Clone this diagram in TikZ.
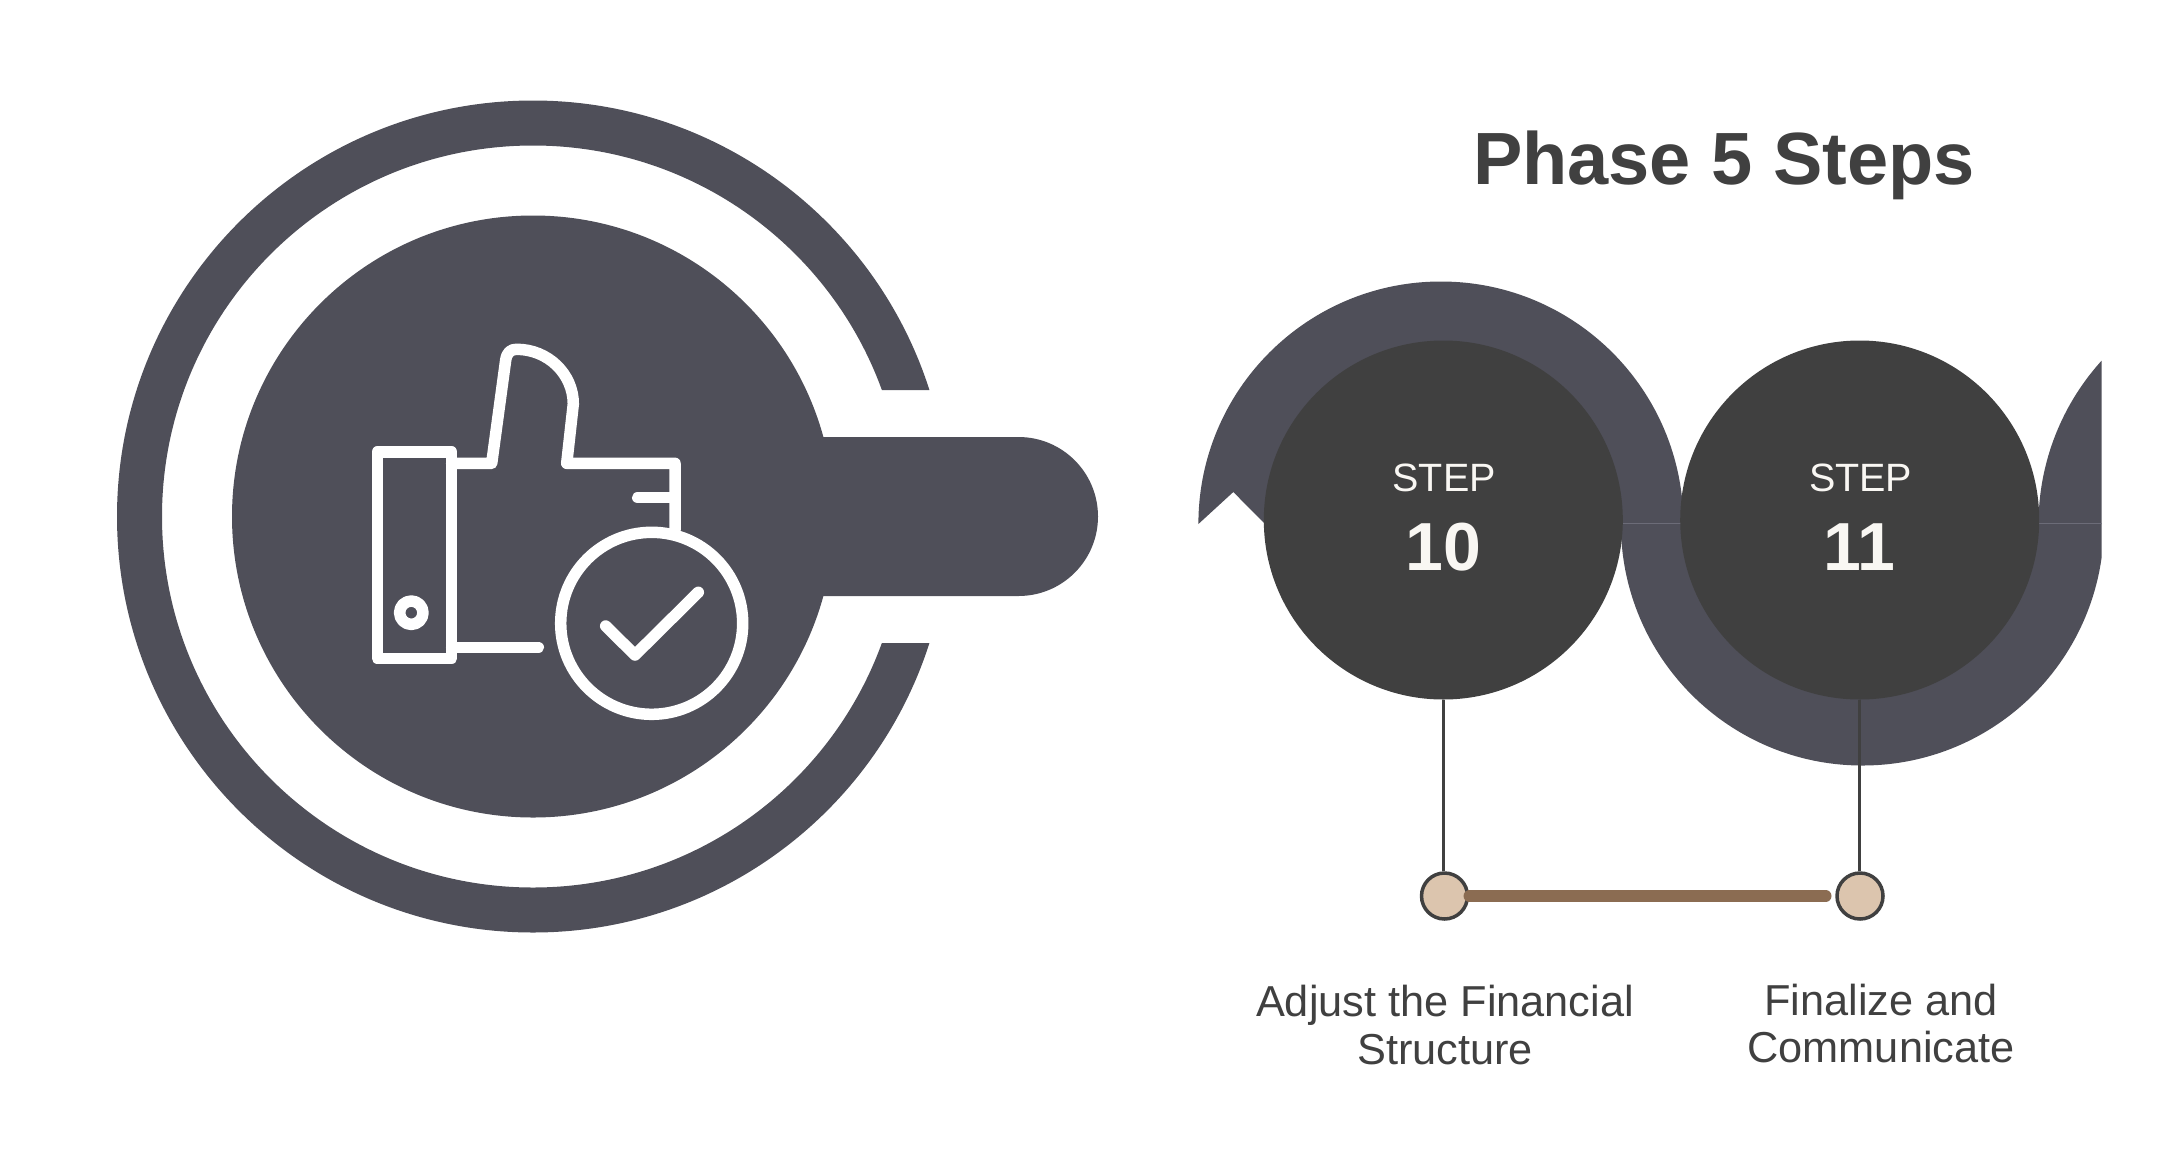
\documentclass[tikz,border=0pt]{standalone}
\usepackage{fontspec}
\setmainfont{Liberation Sans}
\usetikzlibrary{calc, arrows.meta}
\definecolor{slatefill}{HTML}{4F4F59}
\definecolor{coalfill}{HTML}{404040}
\definecolor{seamline}{HTML}{6C6C78}
\definecolor{sandfill}{HTML}{DCC5AE}
\definecolor{barbrown}{HTML}{8B6C52}
\definecolor{chalk}{HTML}{F9F7F3}
\tikzset{
  stepdisc/.style={circle, fill=coalfill, minimum size=359pt, inner sep=0pt},
  stepword/.style={text=chalk, font=\fontsize{39.5}{40}\selectfont, anchor=base},
  stepnum/.style={text=chalk, font=\fontsize{68}{68}\selectfont\bfseries, anchor=base},
  stemline/.style={draw=coalfill, line width=3pt},
  dotnode/.style={circle, draw=coalfill, line width=3.5pt, fill=sandfill, minimum size=46pt, inner sep=0pt},
  caption/.style={text=coalfill, font=\fontsize{43.3}{48}\selectfont, anchor=base},
  iconline/.style={draw=white, line width=11.5pt, line join=round, line cap=round},
}
\begin{document}
\begin{tikzpicture}[x=1pt,y=-1pt]
\useasboundingbox (0,0) rectangle (2184,1163);
\coordinate (Big) at (533,516.5);
% ring with a gap on the right
\begin{scope}
\clip (0,0) rectangle (2184,390) (0,643) rectangle (2184,1163) (0,390) rectangle (700,643);
\fill[slatefill, even odd rule] (Big) circle (416) (Big) circle (371);
\end{scope}
\fill[slatefill] (Big) circle (301);
\fill[slatefill] (800,437) -- (1018.5,437) arc[start angle=90, end angle=-90, radius=79.5pt] -- (800,596) -- cycle;
% thumb icon
\draw[iconline] (377.3,452) rectangle (451.7,658.3);
\draw[iconline] (451.7,463.3) -- (491.7,463.3) -- (505.7,360) .. controls (507,352) and (511,349.3) .. (516.7,349.3) .. controls (548,349.3) and (573.3,374) .. (573.3,404) -- (566.7,463.3) -- (675,463.3) -- (675,530);
\draw[iconline] (637.7,497.7) -- (675,497.7);
\draw[iconline] (451.7,647.3) -- (538.3,647.3);
\draw[iconline] (411.3,612.7) circle (11.7);
\draw[iconline] (651.7,623.3) circle (91);
\draw[iconline] (605.7,626) -- (635,655) -- (698.3,592.3);
% wave behind the steps
\begin{scope}
\clip (1190,250) rectangle (2101.6,800);
\fill[slatefill] (1198.4,524) arc[start angle=180, end angle=0, radius=242.5pt] -- (1611,524) arc[start angle=0, end angle=180, radius=170pt] -- (1268,527) -- (1233.3,492) -- cycle;
\fill[slatefill] (1620.9,524) arc[start angle=180, end angle=360, radius=241.5pt] -- (2031,524) arc[start angle=360, end angle=180, radius=170pt] -- cycle;
\fill[slatefill] (2038.5,524) arc[start angle=180, end angle=137, radius=243pt] -- (2101.6,524) -- cycle;
\draw[seamline, line width=1pt] (1622,523.5) -- (1681,523.5) (2038,523.5) -- (2101.6,523.5);
\end{scope}
\node[stepdisc] (step10) at (1443.3,520) {};
\node[stepdisc] (step11) at (1859.7,520) {};
\node[stepword] (word10) at (1444.2,491.5) {STEP};
\node[stepword] (word11) at (1860.6,491.5) {STEP};
\node[stepnum] (num10) at (1443.3,570.5) {10};
\node[stepnum] (num11) at (1859,570.5) {11};
% stems and dots
\node[dotnode] (dot10) at (1444.5,896) {};
\node[dotnode] (dot11) at (1860,896) {};
\draw[stemline] (step10.south) -- (dot10.north -| step10.south);
\draw[stemline] (step11.south) -- (dot11.north -| step11.south);
\draw[draw=barbrown, line width=11.5pt, line cap=round, shorten >=9.5pt] (dot10.east) -- (dot11.west);
\node[text=coalfill, font=\fontsize{74}{74}\selectfont\bfseries, anchor=base] (title) at (1724,184) {Phase 5 Steps};
\node[caption] (cap10a) at (1445,1016) {Adjust the Financial};
\node[caption] (cap10b) at (1445,1064) {Structure};
\node[caption] (cap11a) at (1881,1015) {Finalize and};
\node[caption] (cap11b) at (1881,1062) {Communicate};
\end{tikzpicture}
\end{document}
